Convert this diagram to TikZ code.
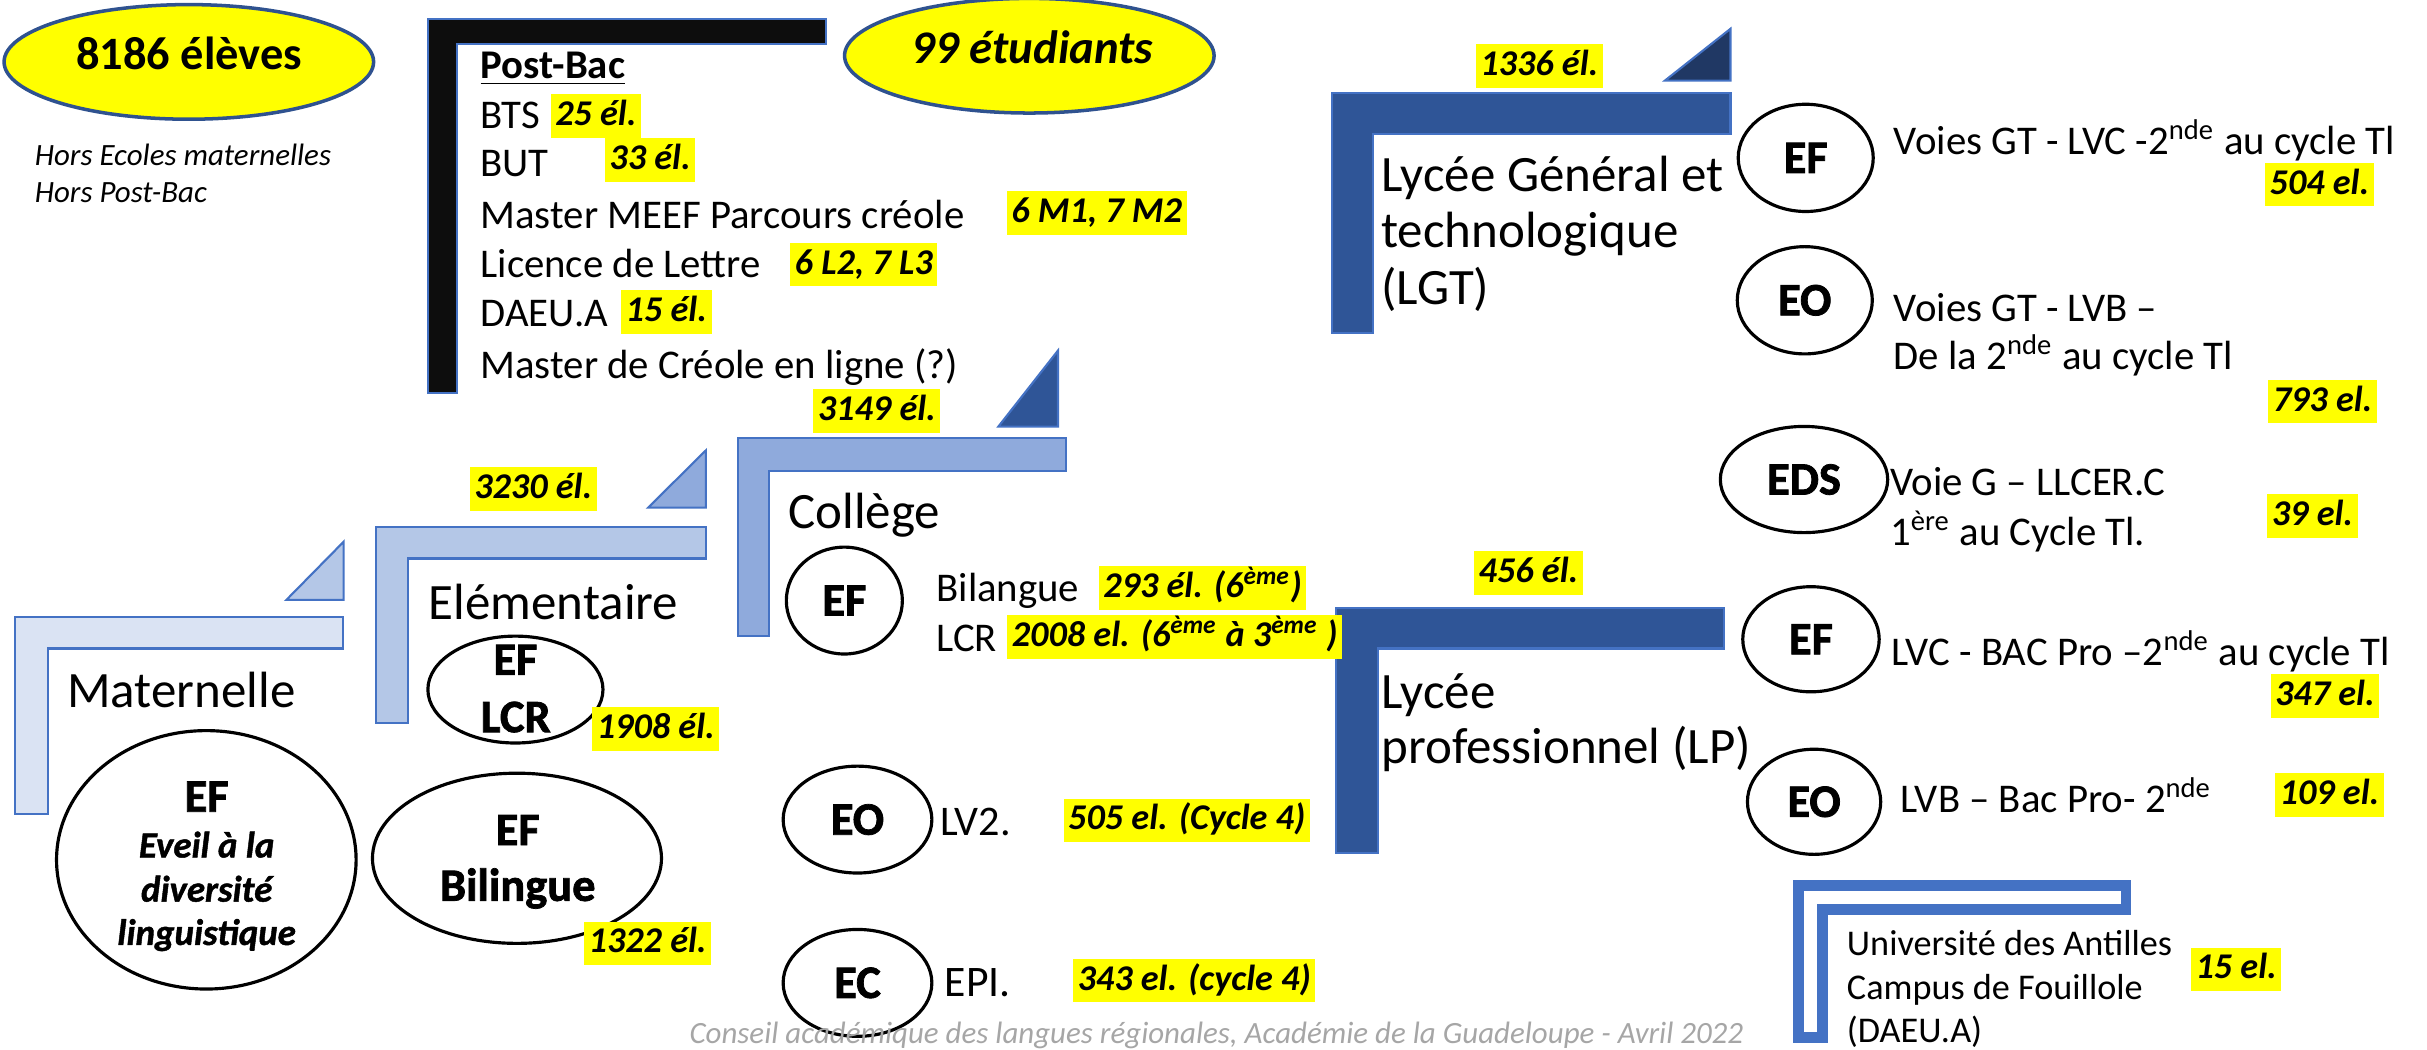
\documentclass[tikz,border=0pt]{standalone}
\usepackage{fontspec}
\setmainfont{Carlito}
\newfontfamily\heavyfont{Carlito}[BoldFeatures={FakeBold=1.6},BoldItalicFeatures={FakeBold=1.2}]
\usetikzlibrary{shapes.geometric}
\definecolor{cA}{HTML}{DAE3F3}
\definecolor{cB}{HTML}{B4C7E7}
\definecolor{cC}{HTML}{8FAADC}
\definecolor{cD}{HTML}{2F5597}
\definecolor{cE}{HTML}{203864}
\definecolor{postblack}{HTML}{0D0D0D}
\definecolor{barline}{HTML}{4472C4}
\definecolor{hly}{HTML}{FFFF00}
\definecolor{ellline}{HTML}{2F528F}
\definecolor{footgray}{HTML}{A6A6A6}
\newcommand\sups[1]{\textsuperscript{#1}}
\begin{document}
\begin{tikzpicture}[x=0.015478cm,y=-0.015478cm,
  ttl/.style={anchor=base west,inner sep=0pt,font=\fontsize{14.5}{17}\selectfont},
  txt/.style={anchor=base west,inner sep=0pt,font=\fontsize{11.6}{14}\selectfont},
  smalltxt/.style={anchor=base west,inner sep=0pt,font=\itshape\fontsize{8.8}{10}\selectfont},
  hl/.style={fill=hly,inner xsep=1.3pt,inner ysep=1.3pt,text height=7.6pt,text depth=2.2pt,font=\bfseries\itshape\fontsize{10.3}{12}\selectfont},
  circ/.style={ellipse,draw=black,line width=0.9pt,inner sep=0pt,font=\heavyfont\bfseries\fontsize{13.2}{15}\selectfont},
  clab/.style={anchor=base,inner sep=0pt,font=\heavyfont\bfseries\fontsize{13.2}{15}\selectfont},
  ilab/.style={anchor=base,inner sep=0pt,font=\heavyfont\bfseries\itshape\fontsize{10.5}{12}\selectfont},
  lvlbar/.style={draw=barline,line width=0.6pt},
  bigell/.style={ellipse,draw=ellline,line width=1pt,fill=hly,inner sep=0pt,minimum width=105.1pt,minimum height=32.6pt}]
\useasboundingbox (0,0) rectangle (1568,678);
\clip (0,0) rectangle (1568,678);

% ---- level brackets and triangles
\path[lvlbar,fill=cA] (9.7,398.8) -- (221.8,398.8) -- (221.8,419) -- (30.8,419) -- (30.8,526) -- (9.7,526) -- cycle;
\path[lvlbar,fill=cB] (185,387.6) -- (222,387.6) -- (222,350) -- cycle;
\path[lvlbar,fill=cB] (243,340.5) -- (456,340.5) -- (456,360.8) -- (263.5,360.8) -- (263.5,467) -- (243,467) -- cycle;
\path[lvlbar,fill=cC] (418.7,328) -- (456,328) -- (456,291) -- cycle;
\path[lvlbar,fill=cC] (476.7,283) -- (688.6,283) -- (688.6,304.4) -- (496.7,304.4) -- (496.7,411) -- (476.7,411) -- cycle;
\path[lvlbar,fill=cD] (645,275.6) -- (683.5,275.6) -- (683.5,226.5) -- cycle;
\path[lvlbar,fill=cD] (860.6,60) -- (1118,60) -- (1118,86.6) -- (887,86.6) -- (887,215) -- (860.6,215) -- cycle;
\path[lvlbar,fill=cE] (1075.6,52.1) -- (1118,52.1) -- (1118,18.6) -- cycle;
\path[lvlbar,fill=cD] (863,393) -- (1113.7,393) -- (1113.7,419) -- (890,419) -- (890,551) -- (863,551) -- cycle;
\path[lvlbar,fill=postblack] (276.6,12.5) -- (533.8,12.5) -- (533.8,28.5) -- (295.5,28.5) -- (295.5,254) -- (276.6,254) -- cycle;
\path[draw=barline,line width=3.1pt,fill=white] (1162,572) -- (1373.5,572) -- (1373.5,587.3) -- (1177.5,587.3) -- (1177.5,670.5) -- (1162,670.5) -- cycle;

% ---- yellow totals
\node[bigell] (e8186) at (122,40) {};
\node[anchor=base,inner sep=0pt,font=\bfseries\fontsize{13.2}{15}\selectfont] (t8186) at (122.3,45.2) {8186 élèves};
\node[bigell] (e99) at (665,36) {};
\node[anchor=base,inner sep=0pt,font=\bfseries\itshape\fontsize{13.3}{15}\selectfont] (t99) at (667,41) {99 étudiants};
\node[smalltxt] (hors1) at (22,107) {Hors Ecoles maternelles};
\node[smalltxt] (hors2) at (22,130.7) {Hors Post-Bac};

% ---- Post-Bac
\node[anchor=base west,inner sep=0pt,font=\bfseries\fontsize{11.6}{14}\selectfont] (pb) at (310,50.6) {\underline{Post-Bac}};
\node[txt] (bts) at (310,83) {BTS};
\node[txt] (but) at (310,114) {BUT};
\node[txt] (meef) at (310,147.5) {Master MEEF Parcours créole};
\node[txt] (lic) at (310,179.4) {Licence de Lettre};
\node[txt] (daeu) at (310,211) {DAEU.A};
\node[txt] (mcl) at (310,244.4) {Master de Créole en ligne (?)};
\node[hl] (h25) at (385,75) {25 él.};
\node[hl] (h33) at (420,103.5) {33 él.};
\node[hl] (hmeef) at (708.5,137.5) {6 M1, 7 M2};
\node[hl] (hlic) at (558,171) {6 L2, 7 L3};
\node[hl] (h15) at (430.5,201.5) {15 él.};

% ---- level titles
\node[ttl] (mat) at (43,457) {Maternelle};
\node[ttl] (elem) at (276.6,400.3) {Elémentaire};
\node[ttl] (coll) at (509,341.7) {Collège};
\node[ttl] (lgt1) at (892,123.5) {Lycée Général et};
\node[ttl] (lgt2) at (892,160) {technologique};
\node[ttl] (lgt3) at (892,197) {(LGT)};
\node[ttl] (lp1) at (892,458) {Lycée};
\node[ttl] (lp2) at (892,493) {professionnel (LP)};

% ---- level counts
\node[hl] (h3149) at (566.5,265.5) {3149 él.};
\node[hl] (h3230) at (344.5,316) {3230 él.};
\node[hl] (h1336) at (994.5,42.7) {1336 él.};
\node[hl] (h456) at (987.5,370) {456 él.};

% ---- Maternelle / Elementaire
\node[circ,minimum width=85.2pt,minimum height=73.5pt] (eveil) at (133.3,555.5) {};
\node[clab] (eveilEF) at (133.5,524.4) {EF};
\node[ilab] (eveil1) at (133.5,554) {Eveil à la};
\node[ilab] (eveil2) at (133.5,582.5) {diversité};
\node[ilab] (eveil3) at (133.5,610.5) {linguistique};
\node[circ,minimum width=49.8pt,minimum height=30.4pt] (lcr) at (333,445.5) {};
\node[clab] (lcrEF) at (333,436) {EF};
\node[clab] (lcrT) at (333.2,473) {LCR};
\node[hl] (h1908) at (423.7,471) {1908 él.};
\node[circ,minimum width=82.2pt,minimum height=48.4pt] (bil) at (334,554.5) {};
\node[clab] (bilEF) at (334.5,546) {EF};
\node[clab] (bilT) at (334.5,582) {Bilingue};
\node[hl] (h1322) at (418.4,609.5) {1322 él.};

% ---- College
\node[circ,minimum width=33pt,minimum height=30.4pt] (cEF) at (545.5,388) {EF};
\node[circ,minimum width=42.3pt,minimum height=30.4pt] (cEO) at (554,529.5) {EO};
\node[circ,minimum width=42.3pt,minimum height=30.4pt] (cEC) at (554,635) {EC};
\node[txt] (cbil) at (604.6,388.6) {Bilangue};
\node[txt] (clcr) at (604.6,421) {LCR};
\node[txt,font=\fontsize{12}{14}\selectfont] (clv) at (607,540) {LV2.};
\node[txt,font=\fontsize{12.4}{14}\selectfont] (cepi) at (610,644) {EPI.};
\node[hl] (h293) at (777,380) {293 él. (6\sups{ème})};
\node[hl] (h2008) at (759,411.5) {2008 el. (6\sups{ème} à 3\sups{ème} )};
\node[hl] (h505) at (766.7,530) {505 el. (Cycle 4)};
\node[hl] (h343) at (771.5,633.5) {343 el. (cycle 4)};

% ---- LGT
\node[circ,minimum width=38.4pt,minimum height=30.5pt] (gEF) at (1166.6,102) {EF};
\node[circ,minimum width=38.4pt,minimum height=30.5pt] (gEO) at (1166,194) {EO};
\node[circ,minimum width=47.6pt,minimum height=30.2pt] (gEDS) at (1165.5,309.8) {EDS};
\node[txt] (gt1) at (1223,99.8) {Voies GT - LVC -2\sups{nde} au cycle Tl};
\node[txt] (gt2) at (1223,207.5) {Voies GT - LVB –};
\node[txt] (gt3) at (1223,239) {De la 2\sups{nde} au cycle Tl};
\node[txt] (gt4) at (1220.7,320) {Voie G – LLCER.C};
\node[txt] (gt5) at (1220.7,352.7) {1\sups{ère} au Cycle Tl.};
\node[hl] (h504) at (1498.5,119.3) {504 el.};
\node[hl] (h793) at (1500.5,259.5) {793 el.};
\node[hl] (h39) at (1494,333.5) {39 el.};

% ---- LP
\node[circ,minimum width=38.8pt,minimum height=29.9pt] (pEF) at (1170,413) {EF};
\node[circ,minimum width=37.9pt,minimum height=29.9pt] (pEO) at (1172,518) {EO};
\node[txt] (lp3) at (1221.6,430) {LVC - BAC Pro –2\sups{nde} au cycle Tl};
\node[txt] (lp4) at (1227.5,525) {LVB – Bac Pro- 2\sups{nde}};
\node[hl] (h347) at (1502,449.6) {347 el.};
\node[hl] (h109) at (1505,513.5) {109 el.};

% ---- Universite
\node[txt,font=\fontsize{10.3}{12}\selectfont] (u1) at (1192.8,617) {Université des Antilles};
\node[txt,font=\fontsize{10.3}{12}\selectfont] (u2) at (1192.8,646) {Campus de Fouillole};
\node[txt,font=\fontsize{10.3}{12}\selectfont] (u3) at (1192.8,673.5) {(DAEU.A)};
\node[hl] (h15b) at (1444.7,626.3) {15 el.};

% ---- footer
\node[anchor=base west,inner sep=0pt,text=footgray,font=\itshape\fontsize{8.8}{10}\selectfont] (foot) at (445,674) {Conseil académique des langues régionales, Académie de la Guadeloupe - Avril 2022};
\end{tikzpicture}
\end{document}
